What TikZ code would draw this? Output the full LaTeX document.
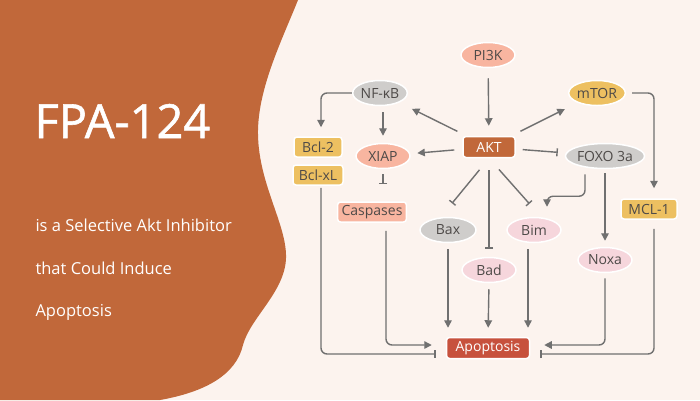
\documentclass[tikz,border=0pt]{standalone}
\usepackage{fontspec}
\setmainfont{Open Sans}
\newfontfamily\heavy{Open Sans}[FakeBold=1.2]
\usetikzlibrary{arrows.meta,shapes,positioning}
\definecolor{cream}{HTML}{FCF3EE}
\definecolor{rust}{HTML}{C1683A}
\definecolor{salmon}{HTML}{F8B5A0}
\definecolor{greyish}{HTML}{CFCDCB}
\definecolor{mustard}{HTML}{EDC061}
\definecolor{rosy}{HTML}{F6D6DC}
\definecolor{brick}{HTML}{C7513D}
\definecolor{wire}{HTML}{707070}
\definecolor{ink}{HTML}{4E4A48}

\begin{document}
\begin{tikzpicture}[x=1pt,y=-1pt,
	lbl/.style={text=ink,font=\fontsize{14}{16}\selectfont,draw=white,line width=1.5pt,inner sep=0pt},
	oval/.style={lbl,ellipse,minimum width=54pt,minimum height=25pt},
	tag/.style={lbl,rectangle,rounded corners=3pt,minimum height=20pt,inner xsep=4pt},
	act/.style={draw=wire,line width=1.4pt,-{Triangle[length=7.5pt,width=7.5pt]}},
	inh/.style={draw=wire,line width=1.4pt,-{Bar[width=8pt]}},
	]
	\useasboundingbox (0,0) rectangle (700,400);
	\fill[cream] (0,0) rectangle (700,400);
	\fill[rust] (0,0) -- (298,0) .. controls (282,40) and (257,90) .. (258,135)
		.. controls (259,185) and (287,225) .. (286,258)
		.. controls (285,292) and (250,318) .. (243,345)
		.. controls (236,375) and (205,392) .. (160,400) -- (0,400) -- cycle;

	\node[anchor=base west,text=white,font=\heavy\fontsize{47}{50}\selectfont] (title) at (31,138) {FPA-124};
	\begin{scope}[every node/.style={anchor=base west,text=white,font=\fontsize{16.5}{18}\selectfont}]
		\node (sub1) at (32,231) {is a Selective Akt Inhibitor};
		\node (sub2) at (32,274) {that Could Induce};
		\node (sub3) at (32,316) {Apoptosis};
	\end{scope}

	\node[oval,fill=salmon] (pi3k) at (488,55) {PI3K};
	\node[oval,fill=greyish] (nfkb) at (380,93) {NF-κB};
	\node[oval,fill=mustard] (mtor) at (597,93) {mTOR};
	\node[tag,fill=rust,text=white,minimum width=52pt,minimum height=21pt] (akt) at (489,147) {AKT};
	\node[oval,fill=salmon] (xiap) at (383,156) {XIAP};
	\node[oval,fill=greyish,minimum width=74pt] (foxo) at (605,156) {FOXO 3a};
	\node[tag,fill=mustard,minimum width=48pt] (bcl2) at (318,147) {Bcl-2};
	\node[tag,fill=mustard,minimum width=50pt] (bclxl) at (318,175) {Bcl-xL};
	\node[tag,fill=salmon,minimum width=68pt] (casp) at (372,212) {Caspases};
	\node[tag,fill=mustard,minimum width=56pt] (mcl1) at (649,209) {MCL-1};
	\node[oval,fill=greyish,minimum width=56pt] (bax) at (448,230) {Bax};
	\node[oval,fill=rosy] (bim) at (534,230) {Bim};
	\node[oval,fill=rosy] (bad) at (489,270) {Bad};
	\node[oval,fill=rosy] (noxa) at (605,260) {Noxa};
	\node[tag,fill=brick,text=white,minimum width=83pt,minimum height=21pt] (apop) at (488,348) {Apoptosis};

	\draw[act,shorten <=10pt,shorten >=10pt] (pi3k) -- (akt);
	\draw[act,shorten <=10pt,shorten >=14pt] (akt) -- (nfkb);
	\draw[act,shorten <=10pt,shorten >=14pt] (akt) -- (mtor);
	\draw[act,shorten <=8pt,shorten >=7pt] (akt) -- (xiap);
	\draw[inh,shorten <=7pt,shorten >=8pt] (akt) -- (foxo);
	\draw[inh,shorten <=15pt,shorten >=18pt] (akt.south) -- (bax.120);
	\draw[inh,shorten <=12pt,shorten >=8pt] (akt.south) -- (bad.north);
	\draw[inh,shorten <=15pt,shorten >=18pt] (akt.south) -- (bim.60);
	\draw[act,rounded corners=6pt,shorten <=5pt,shorten >=10pt] ([xshift=-20pt]foxo.south) -- ++(0,27) -| ([xshift=13pt]bim.north);
	\draw[act,shorten <=4pt,shorten >=6pt] (foxo.south) -- (noxa.north);
	\draw[act,rounded corners=6pt,shorten <=6pt,shorten >=10pt] (mtor.east) -| ([xshift=5pt]mcl1.north);
	\draw[act,rounded corners=6pt,shorten >=9pt] (nfkb.west) -| ([xshift=3pt]bcl2.north);
	\draw[act,shorten <=6pt,shorten >=7pt] (nfkb.south -| xiap) -- (xiap.north);
	\draw[inh,shorten <=5pt,shorten >=17pt] (xiap.south) -- (xiap.south |- casp.north);
	\draw[act,rounded corners=6pt,shorten <=8pt,shorten >=14pt] ([xshift=14pt]casp.south) |- ([yshift=3pt]apop.west);
	\draw[inh,rounded corners=6pt,shorten <=2pt,shorten >=10pt] ([xshift=3pt]bclxl.south) |- ([yshift=-6pt]apop.west);
	\draw[act,shorten <=6pt,shorten >=9pt] (bax.south) -- (bax.south |- apop.north);
	\draw[act,shorten <=6pt,shorten >=9pt] (bad.south) -- (apop.north);
	\draw[act,shorten <=6pt,shorten >=9pt] ([xshift=-6pt]bim.south) -- ([xshift=-6pt]bim.south |- apop.north);
	\draw[act,rounded corners=6pt,shorten <=5pt,shorten >=14pt] (noxa.south) |- ([yshift=3pt]apop.east);
	\draw[inh,rounded corners=6pt,shorten <=9pt,shorten >=10pt] ([xshift=5pt]mcl1.south) |- ([yshift=-6pt]apop.east);
\end{tikzpicture}
\end{document}
